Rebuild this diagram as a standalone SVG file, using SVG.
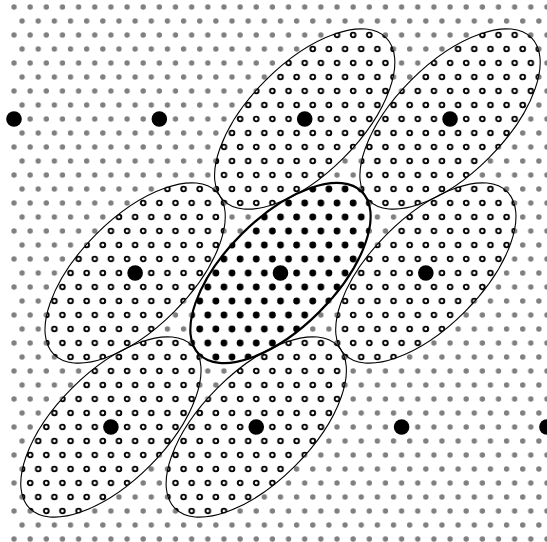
<svg xmlns="http://www.w3.org/2000/svg" xmlns:xlink="http://www.w3.org/1999/xlink" width="547" height="542" viewBox="0 0 547 542">
<style>
.outline{fill:none;stroke:#000;stroke-width:1.1}
.bold{fill:none;stroke:#000;stroke-width:2.2}
.big{fill:#000}
</style>
<defs>
<pattern id="gray" patternUnits="userSpaceOnUse" x="9.96" y="0" width="16.15" height="28">
<circle cx="4.04" cy="7" r="2.7" fill="#808080"/>
<circle cx="12.115" cy="21" r="2.7" fill="#808080"/>
</pattern>
<pattern id="open" patternUnits="userSpaceOnUse" x="9.96" y="0" width="16.15" height="28">
<rect width="16.15" height="28" fill="#fff"/>
<circle cx="4.04" cy="7" r="2.35" fill="#fff" stroke="#000" stroke-width="1.9"/>
<circle cx="12.115" cy="21" r="2.35" fill="#fff" stroke="#000" stroke-width="1.9"/>
</pattern>
<pattern id="solid" patternUnits="userSpaceOnUse" x="9.96" y="0" width="16.15" height="28">
<rect width="16.15" height="28" fill="#fff"/>
<circle cx="4.04" cy="7" r="3.4" fill="#000"/>
<circle cx="12.115" cy="21" r="3.4" fill="#000"/>
</pattern>
<path id="eA" d="M386.02 37.68A115 55 -45 0 0 223.38 200.32A115 55 -45 0 0 386.02 37.68Z"/>
<path id="eB" d="M531.37 37.68A115 55 -45 0 0 368.73 200.32A115 55 -45 0 0 531.37 37.68Z"/>
<path id="eC" d="M216.45 191.68A115 55 -45 0 0 53.81 354.32A115 55 -45 0 0 216.45 191.68Z"/>
<path id="eD" d="M361.8 191.68A115 55 -45 0 0 199.16 354.32A115 55 -45 0 0 361.8 191.68Z"/>
<path id="eE" d="M507.15 191.68A115 55 -45 0 0 344.51 354.32A115 55 -45 0 0 507.15 191.68Z"/>
<path id="eF" d="M192.22 345.68A115 55 -45 0 0 29.58 508.32A115 55 -45 0 0 192.22 345.68Z"/>
<path id="eG" d="M337.57 345.68A115 55 -45 0 0 174.93 508.32A115 55 -45 0 0 337.57 345.68Z"/>
</defs>
<rect width="547" height="542" fill="#fff"/>
<g id="lattice">
<rect x="10" y="0" width="537" height="542" fill="url(#gray)"/>
</g>
<g id="fills">
<use xlink:href="#eA" fill="url(#open)"/>
<use xlink:href="#eB" fill="url(#open)"/>
<use xlink:href="#eC" fill="url(#open)"/>
<use xlink:href="#eE" fill="url(#open)"/>
<use xlink:href="#eF" fill="url(#open)"/>
<use xlink:href="#eG" fill="url(#open)"/>
<use xlink:href="#eD" fill="url(#solid)"/>
</g>
<g id="node-A"><use xlink:href="#eA" class="outline"/><circle class="big" cx="304.7" cy="119" r="7.8"/></g>
<g id="node-B"><use xlink:href="#eB" class="outline"/><circle class="big" cx="450.05" cy="119" r="7.8"/></g>
<g id="node-C"><use xlink:href="#eC" class="outline"/><circle class="big" cx="135.13" cy="273" r="7.8"/></g>
<g id="node-E"><use xlink:href="#eE" class="outline"/><circle class="big" cx="425.83" cy="273" r="7.8"/></g>
<g id="node-F"><use xlink:href="#eF" class="outline"/><circle class="big" cx="110.9" cy="427" r="7.8"/></g>
<g id="node-G"><use xlink:href="#eG" class="outline"/><circle class="big" cx="256.25" cy="427" r="7.8"/></g>
<g id="node-D"><use xlink:href="#eD" class="bold"/><circle class="big" cx="280.48" cy="273" r="7.8"/></g>
<g id="point-1"><circle class="big" cx="14" cy="119" r="7.8"/></g>
<g id="point-2"><circle class="big" cx="159.35" cy="119" r="7.8"/></g>
<g id="point-3"><circle class="big" cx="401.6" cy="427" r="7.8"/></g>
<g id="point-4"><circle class="big" cx="546.95" cy="427" r="7.8"/></g>
</svg>
